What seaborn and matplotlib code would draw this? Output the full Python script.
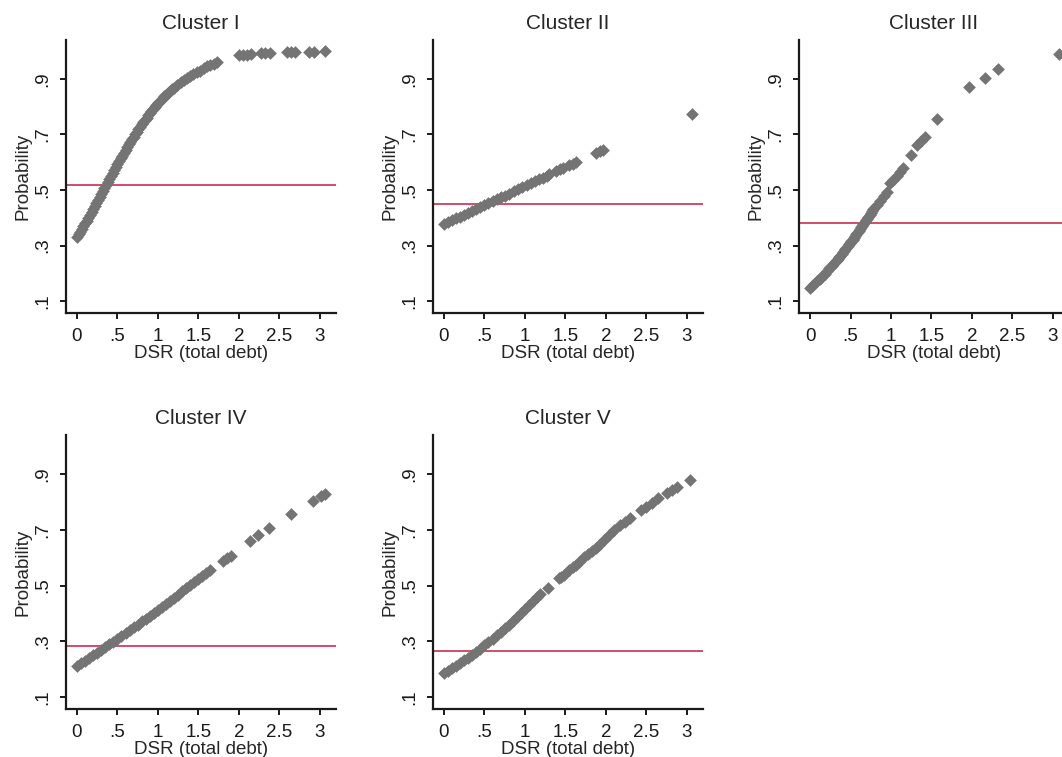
import pandas as pd
import matplotlib.pyplot as plt
import seaborn as sns

# Predicted probability vs DSR
c1_x = [0.00, 0.02, 0.04, 0.06, 0.08, 0.10, 0.12, 0.14, 0.16, 0.18, 0.20, 0.22, 0.24, 0.26,
        0.28, 0.30, 0.32, 0.34, 0.36, 0.38, 0.40, 0.42, 0.44, 0.46, 0.48, 0.50, 0.52, 0.54,
        0.56, 0.58, 0.60, 0.62, 0.64, 0.66, 0.68, 0.70, 0.72, 0.74, 0.76, 0.78, 0.80, 0.82,
        0.84, 0.86, 0.88, 0.90, 0.92, 0.94, 0.96, 0.98, 1.00, 1.02, 1.04, 1.06, 1.08, 1.10,
        1.12, 1.14, 1.16, 1.18, 1.20, 1.24, 1.28, 1.32, 1.36, 1.40, 1.44, 1.48, 1.52,
        1.57, 1.61, 1.65, 1.69, 1.73, 2.00, 2.05, 2.10, 2.15, 2.27, 2.32, 2.38,
        2.60, 2.65, 2.70, 2.87, 2.93, 3.07]
c1_y = [0.330, 0.340, 0.350, 0.359, 0.369, 0.380, 0.390, 0.400, 0.411, 0.421, 0.432, 0.442, 0.453, 0.464,
        0.475, 0.486, 0.497, 0.507, 0.518, 0.529, 0.540, 0.550, 0.561, 0.572, 0.583, 0.593, 0.604, 0.614,
        0.624, 0.634, 0.644, 0.654, 0.664, 0.673, 0.683, 0.692, 0.701, 0.710, 0.719, 0.728, 0.737, 0.745,
        0.753, 0.761, 0.769, 0.776, 0.784, 0.791, 0.798, 0.805, 0.812, 0.818, 0.825, 0.831, 0.837, 0.843,
        0.848, 0.854, 0.859, 0.864, 0.869, 0.879, 0.888, 0.896, 0.904, 0.911, 0.918, 0.924, 0.930,
        0.940, 0.945, 0.950, 0.955, 0.960, 0.985, 0.986, 0.987, 0.988, 0.993, 0.993, 0.993,
        0.997, 0.997, 0.997, 0.998, 0.998, 0.999]

c2_x = [0.00, 0.05, 0.10, 0.15, 0.20, 0.25, 0.30, 0.35, 0.40, 0.45, 0.50, 0.55, 0.60, 0.65,
        0.70, 0.75, 0.80, 0.87, 0.92, 0.97, 1.02, 1.07, 1.12, 1.17, 1.22, 1.27, 1.30,
        1.38, 1.43, 1.47, 1.54, 1.59, 1.63, 1.88, 1.93, 1.97, 3.06]
c2_y = [0.378, 0.385, 0.391, 0.398, 0.404, 0.411, 0.418, 0.425, 0.432, 0.438, 0.445, 0.452, 0.459, 0.466,
        0.473, 0.480, 0.487, 0.496, 0.503, 0.510, 0.517, 0.524, 0.531, 0.538, 0.545, 0.552, 0.556,
        0.567, 0.574, 0.579, 0.589, 0.595, 0.601, 0.633, 0.640, 0.645, 0.775]

c3_x = [0.00, 0.03, 0.06, 0.09, 0.12, 0.15, 0.18, 0.21, 0.24, 0.27, 0.30, 0.315, 0.33, 0.345,
        0.36, 0.375, 0.39, 0.405, 0.42, 0.435, 0.45, 0.465, 0.48, 0.495, 0.51, 0.525, 0.54,
        0.555, 0.57, 0.585, 0.60, 0.615, 0.63, 0.645, 0.66, 0.675, 0.69, 0.705, 0.72, 0.735,
        0.75, 0.765, 0.78, 0.83, 0.87, 0.91, 0.95, 0.99, 1.03, 1.07, 1.11, 1.15, 1.25,
        1.32, 1.37, 1.42, 1.57, 1.97, 2.16, 2.32, 3.08]
c3_y = [0.148, 0.156, 0.164, 0.173, 0.181, 0.190, 0.199, 0.209, 0.218, 0.228, 0.238, 0.243, 0.248, 0.253,
        0.259, 0.264, 0.270, 0.275, 0.281, 0.286, 0.292, 0.298, 0.304, 0.309, 0.315, 0.321, 0.327,
        0.333, 0.340, 0.346, 0.352, 0.358, 0.365, 0.371, 0.378, 0.384, 0.391, 0.397, 0.404, 0.411,
        0.418, 0.425, 0.432, 0.446, 0.462, 0.478, 0.494, 0.524, 0.537, 0.551, 0.564, 0.578, 0.626,
        0.662, 0.677, 0.692, 0.755, 0.870, 0.905, 0.935, 0.989]

c4_x = [0.00, 0.05, 0.10, 0.15, 0.20, 0.25, 0.30, 0.35, 0.40, 0.45, 0.50, 0.55, 0.60, 0.65,
        0.70, 0.75, 0.80, 0.85, 0.90, 0.95, 1.00, 1.05, 1.10, 1.15, 1.20, 1.25, 1.30, 1.35,
        1.40, 1.45, 1.50, 1.55, 1.60, 1.65, 1.80, 1.85, 1.90, 2.14, 2.24, 2.37, 2.64,
        2.92, 3.02, 3.07]
c4_y = [0.211, 0.221, 0.230, 0.240, 0.249, 0.259, 0.269, 0.279, 0.289, 0.299, 0.309, 0.319, 0.329, 0.339,
        0.350, 0.360, 0.371, 0.381, 0.392, 0.402, 0.413, 0.424, 0.435, 0.445, 0.456, 0.467, 0.479, 0.490,
        0.501, 0.512, 0.523, 0.534, 0.546, 0.557, 0.588, 0.598, 0.607, 0.661, 0.681, 0.705, 0.755,
        0.804, 0.820, 0.828]

c5_x = [0.00, 0.05, 0.10, 0.15, 0.20, 0.25, 0.30, 0.35, 0.40, 0.45, 0.50, 0.55, 0.60, 0.65,
        0.70, 0.75, 0.80, 0.85, 0.90, 0.95, 1.00, 1.05, 1.10, 1.15, 1.19, 1.28,
        1.42, 1.45, 1.48, 1.55, 1.59, 1.63, 1.67, 1.73, 1.78, 1.83, 1.88, 1.92,
        1.98, 2.04, 2.10, 2.18, 2.24, 2.30, 2.43, 2.50, 2.57, 2.65, 2.76, 2.82, 2.88, 3.04]
c5_y = [0.185, 0.194, 0.203, 0.212, 0.221, 0.231, 0.241, 0.252, 0.263, 0.274, 0.285, 0.297, 0.309, 0.321,
        0.333, 0.346, 0.359, 0.373, 0.387, 0.401, 0.415, 0.429, 0.444, 0.459, 0.471, 0.490,
        0.526, 0.532, 0.538, 0.556, 0.566, 0.575, 0.585, 0.603, 0.614, 0.625, 0.636, 0.645,
        0.663, 0.681, 0.699, 0.717, 0.729, 0.741, 0.771, 0.783, 0.795, 0.813, 0.831, 0.843, 0.854, 0.878]

titles = ['Cluster I', 'Cluster II', 'Cluster III', 'Cluster IV', 'Cluster V']
cutoffs = [0.518, 0.45, 0.381, 0.283, 0.265]
xticks = [0, 0.5, 1, 1.5, 2, 2.5, 3]
xticklabels = ['0', '.5', '1', '1.5', '2', '2.5', '3']
yticks = [0.1, 0.3, 0.5, 0.7, 0.9]
yticklabels = ['.1', '.3', '.5', '.7', '.9']

series = [(c1_x, c1_y), (c2_x, c2_y), (c3_x, c3_y), (c4_x, c4_y), (c5_x, c5_y)]
df = pd.concat([pd.DataFrame({'dsr': x, 'prob': y, 'cluster': t})
                for (x, y), t in zip(series, titles)], ignore_index=True)

sns.set_theme(style='ticks')
plt.rcParams['font.family'] = ['Liberation Sans', 'DejaVu Sans']

fig = plt.figure(figsize=(10.62, 7.57), dpi=100)

# axes boxes in figure fractions (left, bottom, width, height)
positions = [(0.0621, 0.5865, 0.2542, 0.3606),
             (0.4077, 0.5865, 0.2542, 0.3606),
             (0.7524, 0.5865, 0.2542, 0.3606),
             (0.0621, 0.0634, 0.2542, 0.3620),
             (0.4077, 0.0634, 0.2542, 0.3620)]

for title, cut, pos in zip(titles, cutoffs, positions):
    ax = fig.add_axes(pos)
    sub = df[df['cluster'] == title]
    ax.axhline(cut, color='#c8304f', lw=1.2, zorder=1)
    sns.scatterplot(data=sub, x='dsr', y='prob', marker='D', s=42, color='#747474',
                    linewidth=0, ax=ax, zorder=2, clip_on=False)
    ax.set_xlim(-0.136, 3.2)
    ax.set_ylim(0.057, 1.04)
    ax.set_xticks(xticks)
    ax.set_xticklabels(xticklabels)
    ax.set_yticks(yticks)
    ax.set_yticklabels(yticklabels, rotation=90, va='center')
    ax.tick_params(axis='both', direction='out', length=4.5, width=1.4,
                   labelsize=13.5, colors='#1a1a1a', pad=6)
    for side in ['left', 'bottom']:
        ax.spines[side].set_linewidth(1.6)
        ax.spines[side].set_color('#1a1a1a')
    sns.despine(ax=ax)
    ax.set_xlabel('DSR (total debt)', fontsize=13.5, labelpad=0)
    ax.set_ylabel('Probability', fontsize=13.5, labelpad=2)
    ax.set_title(title, fontsize=15, pad=8)

plt.savefig('out.png', dpi=100)
